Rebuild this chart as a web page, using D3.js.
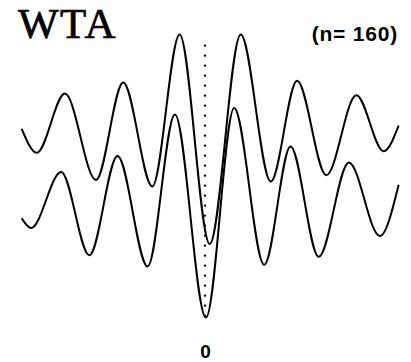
<!DOCTYPE html>
<html>
<head>
<meta charset="utf-8">
<script src="https://cdn.jsdelivr.net/npm/d3@7"></script>
<style>
  body { margin: 0; background: #fff; }
</style>
</head>
<body>
<div id="chart"></div>
<script>
// correlogram peaks and troughs (lag, value)
let upperLag = [-97.5, -89.5, -74.5, -58, -43.5, -28, -13.5, 2.5, 19, 35, 49, 64.5, 80.5, 95, 103];
let upperVal = [66, 58.5, 77, 50, 80.5, 48, 95.5, 30, 95.5, 49.5, 81, 51.5, 76.5, 59, 67];
let lowerLag = [-97.5, -92.5, -76.5, -61.5, -46.5, -30.5, -16, 0.5, 15.5, 31.5, 45.5, 60.5, 76.5, 93, 103];
let lowerVal = [38, 35, 52.5, 26.5, 57.5, 23, 70.5, 7, 72.5, 23.5, 60.5, 26, 55.5, 32.5, 48.5];
let zeroLag = 0;
let zeroSpan = [5, 92];
let title = "WTA";
let countLabel = "(n= 160)";
let tickLabels = ["0"];

var width = 411, height = 362;

var svg = d3.select("#chart")
    .append("svg")
    .attr("width", width)
    .attr("height", height);

var x = d3.scaleLinear()
    .domain([-100, 100])
    .range([17, 393]);

var y = d3.scaleLinear()
    .domain([0, 100])
    .range([340, 20]);

var line = d3.line()
    .x(d => x(d[0]))
    .y(d => y(d[1]))
    .curve(d3.curveMonotoneX);

// zero lag dotted line
svg.append("line")
    .attr("x1", x(zeroLag)).attr("x2", x(zeroLag))
    .attr("y1", y(zeroSpan[1])).attr("y2", y(zeroSpan[0]))
    .attr("stroke", "black")
    .attr("stroke-width", 2.4)
    .attr("stroke-linecap", "round")
    .attr("stroke-dasharray", "0,10");

var series = [d3.zip(upperLag, upperVal), d3.zip(lowerLag, lowerVal)];

svg.selectAll("path.curve")
    .data(series)
    .join("path")
    .attr("class", "curve")
    .attr("d", line)
    .attr("fill", "none")
    .attr("stroke", "black")
    .attr("stroke-width", 2);

// x axis: only the zero label
var xAxis = d3.axisBottom(x)
    .tickValues([zeroLag])
    .tickFormat((d, i) => tickLabels[i])
    .tickSize(0);

svg.append("g")
    .attr("transform", "translate(0,341)")
    .call(xAxis)
    .style("font-family", "'Liberation Sans', Arial, sans-serif")
    .style("font-size", "19px")
    .style("font-weight", "bold")
    .call(g => g.select(".domain").remove())
    .call(g => g.selectAll("text").attr("fill", "black"));

svg.append("text")
    .attr("x", 18)
    .attr("y", 38)
    .attr("stroke", "black")
    .attr("stroke-width", 0.7)
    .style("font-family", "'Liberation Serif', 'Times New Roman', serif")
    .style("font-size", "43px")
    .style("letter-spacing", "1.5px")
    .text(title);

svg.append("text")
    .attr("x", 398)
    .attr("y", 41)
    .attr("text-anchor", "end")
    .style("font-family", "'Liberation Sans', Arial, sans-serif")
    .style("font-size", "21px")
    .style("font-weight", "bold")
    .style("letter-spacing", "0.8px")
    .text(countLabel);
</script>
</body>
</html>
